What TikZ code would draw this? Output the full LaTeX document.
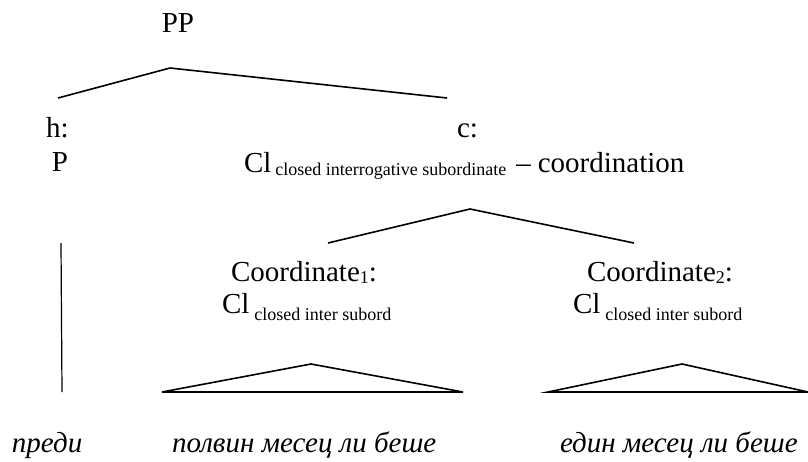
\documentclass[tikz,border=0pt]{standalone}
\usepackage{fontspec}
\setmainfont{Liberation Serif}
\newcommand{\bigtxt}{\fontsize{29}{29}\selectfont}
\newcommand{\subtxt}{\fontsize{18}{18}\selectfont}
\newcommand{\lowsub}[2]{\raisebox{-#1}{\subtxt #2}}
\begin{document}
\begin{tikzpicture}[x=1pt,y=-1pt,
  lbl/.style={inner sep=0pt,outer sep=0pt,font=\bigtxt},
  word/.style={inner sep=0pt,outer sep=0pt,font=\bigtxt\itshape},
  branch/.style={line width=1.6pt,line join=miter},
  stem/.style={line width=1.2pt}]
\useasboundingbox (0,0) rectangle (808,461);

% category labels
\node[lbl,anchor=base] (pp) at (178,32) {PP};
\node[lbl,anchor=base west] (h) at (46,137) {h:};
\node[lbl,anchor=base] (p) at (60,171) {P};
\node[lbl,anchor=base west] (c) at (457,137) {c:};
\node[lbl,anchor=base west] (cl) at (244,172)
  {Cl\hspace{4pt}\lowsub{3pt}{closed interrogative subordinate}\hspace{10pt}–\hspace{7pt}coordination};
\node[lbl,anchor=base west] (co1) at (231,281) {Coordinate\lowsub{2pt}{1}:};
\node[lbl,anchor=base west] (cl1) at (222,313) {Cl\hspace{5pt}\lowsub{7pt}{closed inter subord}};
\node[lbl,anchor=base west] (co2) at (587,281) {Coordinate\lowsub{2pt}{2}:};
\node[lbl,anchor=base west] (cl2) at (573,313) {Cl\hspace{5pt}\lowsub{7pt}{closed inter subord}};

% words
\node[word,anchor=base west] (w1) at (12,452) {преди};
\node[word,anchor=base west] (w2) at (172,452) {полвин месец ли беше};
\node[word,anchor=base west] (w3) at (560,452) {един месец ли беше};

% branch points
\coordinate (ppTop) at (170,68);
\coordinate (hTop) at (58,98);
\coordinate (cTop) at (447,98);
\coordinate (coTop) at (470,209);
\coordinate (co1Top) at (328,243);
\coordinate (co2Top) at (634,243);
\coordinate (pBot) at (61,243);
\coordinate (w1Top) at (62,392);
\coordinate (t1Top) at (311,364);
\coordinate (t1L) at (162,392);
\coordinate (t1R) at (463,392);
\coordinate (t2Top) at (682,364);
\coordinate (t2L) at (548,392);
\coordinate (t2R) at (808,392);

% branches
\draw[branch] (hTop) -- (ppTop) -- (cTop);
\draw[branch] (co1Top) -- (coTop) -- (co2Top);
\draw[stem] (pBot) -- (w1Top);
\draw[branch] (t1L) -- (t1Top) -- (t1R) -- cycle;
\draw[branch] (t2L) -- (t2Top) -- (t2R) -- cycle;
\end{tikzpicture}
\end{document}
